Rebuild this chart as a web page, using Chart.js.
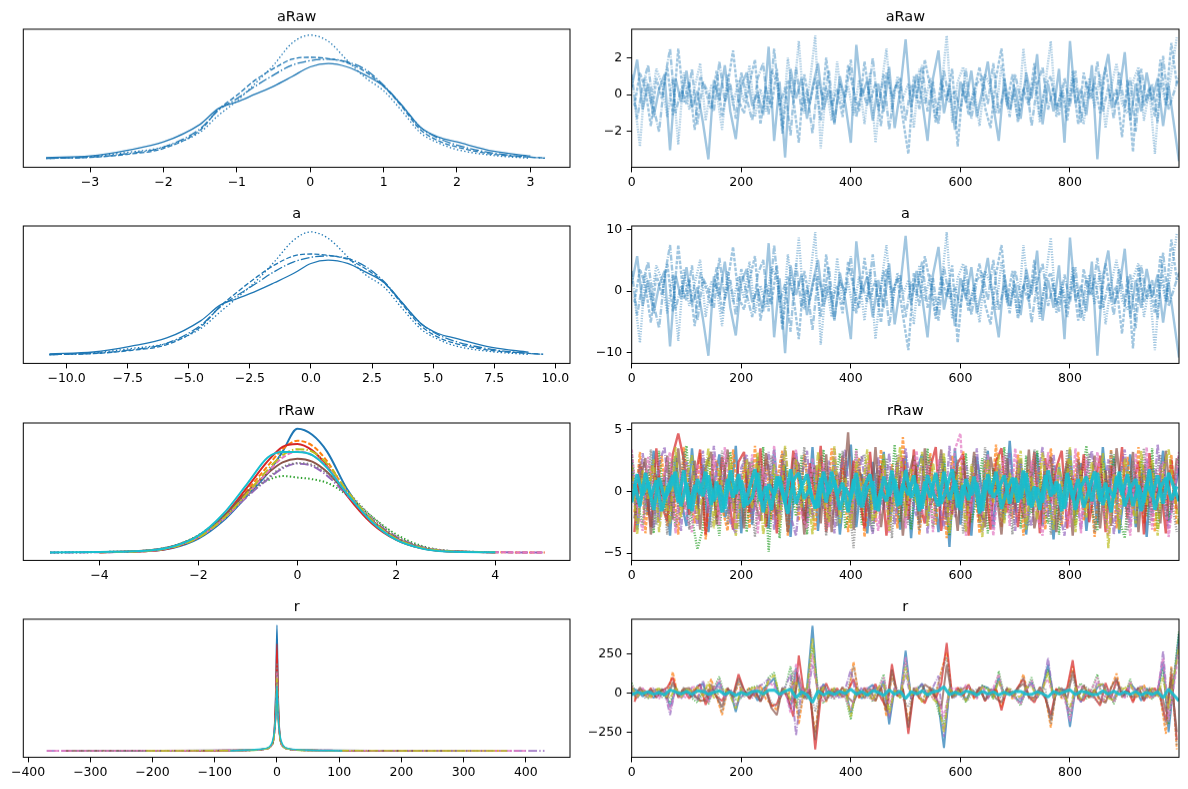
<!DOCTYPE html>
<html>
<head>
<meta charset="utf-8">
<script src="https://cdn.jsdelivr.net/npm/chart.js@4.4.1/dist/chart.umd.min.js"></script>
<style>
html,body{margin:0;padding:0;background:#fff;}
body{width:1188px;height:789px;position:relative;overflow:hidden;}
.p{position:absolute;}
</style>
</head>
<body>
<script>
// ---- data ----
// draw numbers sampled for even chains / odd chains
const DRAWS = [0,10,20,30,40,50,60,70,80,90,100,110,120,130,140,150,160,170,180,190,200,210,220,230,240,250,260,270,280,290,300,310,320,330,340,350,360,370,380,390,400,410,420,430,440,450,460,470,480,490,500,510,520,530,540,550,560,570,580,590,600,610,620,630,640,650,660,670,680,690,700,710,720,730,740,750,760,770,780,790,800,810,820,830,840,850,860,870,880,890,900,910,920,930,940,950,960,970,980,999];
const DRAWS_MID = [5,15,25,35,45,55,65,75,85,95,105,115,125,135,145,155,165,175,185,195,205,215,225,235,245,255,265,275,285,295,305,315,325,335,345,355,365,375,385,395,405,415,425,435,445,455,465,475,485,495,505,515,525,535,545,555,565,575,585,595,605,615,625,635,645,655,665,675,685,695,705,715,725,735,745,755,765,775,785,795,805,815,825,835,845,855,865,875,885,895,905,915,925,935,945,955,965,975,985,995];

// aRaw density per chain
const ARAW_KDE_X = [-3.6,-3.0,-2.5,-2.0,-1.5,-1.25,-1.0,-0.75,-0.5,-0.25,0.0,0.25,0.5,0.75,1.0,1.25,1.5,1.75,2.0,2.5,3.0,3.2];
const ARAW_KDE_0 = [0.004,0.010,0.030,0.060,0.123,0.179,0.202,0.230,0.258,0.292,0.327,0.339,0.327,0.298,0.258,0.190,0.113,0.077,0.060,0.027,0.010,null];
const ARAW_KDE_1 = [0.002,0.005,0.016,0.037,0.102,0.175,0.226,0.280,0.321,0.354,0.361,0.356,0.342,0.310,0.258,0.185,0.104,0.064,0.042,0.016,0.006,0.003];
const ARAW_KDE_2 = [0.001,0.006,0.018,0.042,0.107,0.173,0.214,0.258,0.298,0.333,0.349,0.354,0.345,0.318,0.262,0.190,0.113,0.073,0.049,0.020,0.006,0.002];
const ARAW_KDE_3 = [0.001,0.008,0.023,0.042,0.095,0.155,0.206,0.268,0.333,0.411,0.440,0.417,0.351,0.289,0.242,0.170,0.093,0.056,0.033,0.012,0.002,null];

// a density per chain
const A_KDE_X = [-10.7,-8.9,-7.4,-5.9,-4.5,-3.7,-3.0,-2.2,-1.5,-0.7,0.0,0.7,1.5,2.2,3.0,3.7,4.5,5.2,5.9,7.4,8.9,9.5];
const A_KDE_0 = [0.0013,0.0036,0.0105,0.0205,0.0414,0.0603,0.0680,0.0774,0.0869,0.0983,0.1101,0.1141,0.1101,0.1003,0.0869,0.0640,0.0380,0.0259,0.0202,0.0091,0.0034,null];
const A_KDE_1 = [0.0007,0.0017,0.0054,0.0125,0.0343,0.0589,0.0761,0.0943,0.1081,0.1192,0.1215,0.1199,0.1152,0.1044,0.0869,0.0623,0.0350,0.0215,0.0141,0.0054,0.0020,0.0010];
const A_KDE_2 = [0.0003,0.0020,0.0061,0.0141,0.0360,0.0582,0.0721,0.0869,0.1003,0.1121,0.1175,0.1192,0.1162,0.1071,0.0882,0.0640,0.0380,0.0246,0.0165,0.0067,0.0020,0.0007];
const A_KDE_3 = [0.0003,0.0027,0.0077,0.0141,0.0320,0.0522,0.0694,0.0902,0.1121,0.1384,0.1481,0.1404,0.1182,0.0973,0.0815,0.0572,0.0313,0.0189,0.0111,0.0040,0.0007,null];

// rRaw densities, one curve per colour
const RRAW_KDE_X = [-5,-4,-3,-2.5,-2,-1.5,-1,-0.6,-0.3,0,0.3,0.6,1,1.5,2,2.5,3,4,5];
const RRAW_KDE = [
  [null,0.001,0.006,0.020,0.058,0.132,0.240,0.330,0.420,0.515,0.490,0.420,0.265,0.130,0.055,0.018,0.005,0.001,null],
  [null,0.001,0.007,0.024,0.066,0.145,0.262,0.360,0.430,0.465,0.445,0.380,0.250,0.128,0.055,0.020,0.006,0.001,0.000],
  [0.000,0.002,0.009,0.028,0.072,0.150,0.250,0.300,0.318,0.312,0.305,0.290,0.240,0.150,0.075,0.028,0.008,0.001,null],
  [null,0.001,0.006,0.022,0.064,0.148,0.275,0.380,0.440,0.452,0.425,0.360,0.238,0.122,0.052,0.018,0.005,0.001,null],
  [0.000,0.001,0.008,0.026,0.068,0.140,0.235,0.305,0.350,0.370,0.360,0.320,0.240,0.140,0.065,0.024,0.007,0.001,0.000],
  [null,0.002,0.009,0.027,0.070,0.150,0.255,0.330,0.375,0.390,0.378,0.335,0.245,0.135,0.060,0.021,0.006,0.001,null],
  [null,0.001,0.007,0.024,0.064,0.138,0.245,0.335,0.395,0.420,0.405,0.355,0.250,0.132,0.056,0.020,0.006,0.001,0.000],
  [0.000,0.002,0.008,0.025,0.066,0.142,0.240,0.310,0.355,0.372,0.365,0.330,0.255,0.150,0.068,0.024,0.007,0.001,null],
  [null,0.001,0.007,0.023,0.062,0.140,0.250,0.345,0.405,0.430,0.420,0.370,0.258,0.135,0.057,0.020,0.006,0.001,null],
  [0.000,0.002,0.008,0.026,0.070,0.160,0.290,0.395,0.418,0.418,0.405,0.352,0.245,0.128,0.052,0.017,0.004,0.001,null]
];

// r densities: tail ends per colour, shared inner grid
const R_KDE_LO = [-260,-200,-230,-160,-370,-340,-370,-330,-210,-75];
const R_KDE_INNER = [-50,-20,-10,-5,-2,0,2,5,10,20,50];
const R_KDE_HI = [300,360,320,240,430,280,400,350,370,105];
const R_KDE = [
  [0,0.0004,0.0014,0.0036,0.012,0.048,0.100,0.046,0.011,0.0034,0.0013,0.0004,0],
  [0,0.0005,0.0015,0.0038,0.011,0.036,0.072,0.035,0.010,0.0035,0.0014,0.0004,0],
  [0,0.0004,0.0013,0.0035,0.010,0.032,0.066,0.031,0.010,0.0033,0.0012,0.0004,0],
  [0,0.0004,0.0014,0.0037,0.012,0.042,0.085,0.041,0.011,0.0036,0.0013,0.0005,0],
  [0,0.0005,0.0015,0.0040,0.011,0.029,0.060,0.030,0.010,0.0038,0.0015,0.0005,0],
  [0,0.0004,0.0013,0.0034,0.010,0.027,0.055,0.026,0.009,0.0033,0.0013,0.0004,0],
  [0,0.0005,0.0014,0.0036,0.010,0.031,0.062,0.030,0.010,0.0035,0.0014,0.0005,0],
  [0,0.0004,0.0014,0.0037,0.011,0.034,0.070,0.035,0.011,0.0036,0.0014,0.0004,0],
  [0,0.0004,0.0013,0.0035,0.010,0.028,0.058,0.029,0.010,0.0034,0.0013,0.0004,0],
  [0,0.0006,0.0018,0.0045,0.013,0.027,0.052,0.026,0.012,0.0044,0.0017,0.0006,0]
];

// aRaw chains
const ARAW_0 = [0.4,1.9,-0.8,0.6,-1.2,0.3,1.1,-3.0,0.9,-0.4, 1.3,-0.7,0.2,-1.5,-3.5,0.8,-0.3,1.6,-0.9,-2.4, 0.5,1.2,-0.6,0.1,-1.1,2.6,-2.5,0.7,-3.4,1.4, -0.2,0.9,-1.3,0.4,1.7,-0.8,0.3,-1.6,1.0,-0.5, -2.6,2.7,-0.1,0.8,-1.4,0.6,-0.9,1.5,-1.8,0.2, 3.0,-0.7,1.1,-0.3,-2.5,0.9,2.4,-1.0,0.5,-1.9, 0.7,-0.4,1.3,-1.2,0.2,1.8,-0.6,-2.5,0.9,-0.8, 0.4,-1.3,1.2,-0.2,2.2,-1.6,0.6,-0.9,1.4,-2.6, 2.9,-0.5,0.3,-1.1,1.6,-3.5,0.8,2.2,-0.7,0.1, 2.3,-1.4,0.6,-0.9,1.2,-0.3,0.9,-1.7,0.5,-3.6];
const ARAW_1 = [-0.6,1.2,0.3,-1.7,0.9,-0.2,1.5,-1.1,2.5,-0.4, 0.7,-1.9,1.0,0.2,-0.8,1.3,-1.2,0.5,2.4,-0.3, -1.0,0.6,1.9,-1.6,0.4,-0.7,1.4,-2.1,0.8,-0.2, -2.6,1.1,-0.5,0.9,-1.4,2.0,-0.6,0.3,-1.2,1.6, 0.2,-0.9,1.8,-0.4,0.6,-1.7,1.2,-0.1,0.7,-1.3, -3.2,1.0,-0.8,1.9,0.4,-1.5,0.8,-0.3,1.4,-2.8, 0.6,-1.1,0.2,1.5,-0.7,-1.8,0.9,2.5,-0.5,1.1, -1.5,0.3,-0.6,1.7,-1.2,0.5,1.0,-0.8,0.2,-1.4, 0.9,-1.6,1.2,-0.2,0.7,-1.0,1.5,-0.4,0.3,-2.3, 0.8,-3.1,1.3,-0.6,0.4,-1.2,1.9,-0.5,2.8,0.6];
const ARAW_2 = [1.1,-1.3,0.5,1.6,-0.7,-2.0,0.8,2.5,-1.0,0.3, -0.5,1.4,-1.6,0.7,0.1,-0.9,1.8,-0.4,0.6,-1.3, 1.2,-0.2,-1.4,0.9,1.7,-1.1,2.5,-0.6,0.4,-2.2, 1.5,-0.9,0.2,-2.1,0.8,-0.3,1.3,-1.5,0.6,-0.1, 1.9,-1.2,0.4,-0.6,2.0,-0.8,1.1,-1.9,0.3,0.9, -1.4,0.5,-0.2,1.6,-0.9,0.7,-1.6,1.3,-0.4,0.2, -0.9,1.4,-1.3,0.6,1.0,-0.5,1.7,-1.0,0.3,-1.2, 1.1,-0.3,0.8,-1.7,0.5,1.5,-0.8,0.4,-1.1,0.9, -0.6,1.3,-1.5,0.7,-0.2,1.8,-0.9,0.4,-1.3,1.2, -0.7,0.9,-2.0,1.4,-0.4,0.6,-1.5,2.1,-0.8,1.0];
const ARAW_3 = [-0.3,-2.8,1.0,-0.5,1.4,0.6,-1.2,0.9,-2.7,1.2, -0.8,0.4,1.7,-1.4,0.5,0.2,-1.9,1.1,-0.6,0.8, -0.4,1.6,-1.2,0.3,-0.9,1.3,0.7,-1.8,2.0,-0.3, 2.9,-1.0,0.6,3.2,-2.9,0.4,-1.4,1.8,-0.7,0.5, -1.1,0.8,-1.6,1.2,-2.6,0.3,2.5,-0.9,1.0,-0.2, 0.6,-1.8,1.4,-0.5,0.9,-1.3,0.2,3.2,-1.5,0.7, 1.5,-0.8,0.3,-1.7,1.1,0.4,-1.0,1.6,-0.6,0.2, -1.3,2.5,-0.4,0.8,-1.5,0.6,2.9,-1.2,0.5,-0.9, 1.3,-0.3,-1.6,0.9,-0.7,1.1,-1.8,0.4,1.7,-0.5, -1.0,0.7,1.5,-1.4,0.3,-3.2,0.8,-0.6,1.2,3.1];

// a chains
const A_0 = [1.2,5.7,-2.4,1.8,-3.6,0.9,3.3,-9.0,2.7,-1.2, 3.9,-2.1,0.6,-4.5,-10.5,2.4,-0.9,4.8,-2.7,-7.2, 1.5,3.6,-1.8,0.3,-3.3,7.8,-7.5,2.1,-10.1,4.2, -0.6,2.7,-3.9,1.2,5.1,-2.4,0.9,-4.8,3.0,-1.5, -7.8,8.1,-0.3,2.4,-4.2,1.8,-2.7,4.5,-5.4,0.6, 9.0,-2.1,3.3,-0.9,-7.5,2.7,7.2,-3.0,1.5,-5.7, 2.1,-1.2,3.9,-3.6,0.6,5.4,-1.8,-7.5,2.7,-2.4, 1.2,-3.9,3.6,-0.6,6.6,-4.8,1.8,-2.7,4.2,-7.8, 8.7,-1.5,0.9,-3.3,4.8,-10.5,2.4,6.6,-2.1,0.3, 6.9,-4.2,1.8,-2.7,3.6,-0.9,2.7,-5.1,1.5,-10.8];
const A_1 = [-1.8,3.6,0.9,-5.1,2.7,-0.6,4.5,-3.3,7.5,-1.2, 2.1,-5.7,3.0,0.6,-2.4,3.9,-3.6,1.5,7.2,-0.9, -3.0,1.8,5.7,-4.8,1.2,-2.1,4.2,-6.3,2.4,-0.6, -7.8,3.3,-1.5,2.7,-4.2,6.0,-1.8,0.9,-3.6,4.8, 0.6,-2.7,5.4,-1.2,1.8,-5.1,3.6,-0.3,2.1,-3.9, -9.6,3.0,-2.4,5.7,1.2,-4.5,2.4,-0.9,4.2,-8.4, 1.8,-3.3,0.6,4.5,-2.1,-5.4,2.7,7.5,-1.5,3.3, -4.5,0.9,-1.8,5.1,-3.6,1.5,3.0,-2.4,0.6,-4.2, 2.7,-4.8,3.6,-0.6,2.1,-3.0,4.5,-1.2,0.9,-6.9, 2.4,-9.3,3.9,-1.8,1.2,-3.6,5.7,-1.5,8.4,1.8];
const A_2 = [3.3,-3.9,1.5,4.8,-2.1,-6.0,2.4,7.5,-3.0,0.9, -1.5,4.2,-4.8,2.1,0.3,-2.7,5.4,-1.2,1.8,-3.9, 3.6,-0.6,-4.2,2.7,5.1,-3.3,7.5,-1.8,1.2,-6.6, 4.5,-2.7,0.6,-6.3,2.4,-0.9,3.9,-4.5,1.8,-0.3, 5.7,-3.6,1.2,-1.8,6.0,-2.4,3.3,-5.7,0.9,2.7, -4.2,1.5,-0.6,4.8,-2.7,2.1,-4.8,3.9,-1.2,0.6, -2.7,4.2,-3.9,1.8,3.0,-1.5,5.1,-3.0,0.9,-3.6, 3.3,-0.9,2.4,-5.1,1.5,4.5,-2.4,1.2,-3.3,2.7, -1.8,3.9,-4.5,2.1,-0.6,5.4,-2.7,1.2,-3.9,3.6, -2.1,2.7,-6.0,4.2,-1.2,1.8,-4.5,6.3,-2.4,3.0];
const A_3 = [-0.9,-8.4,3.0,-1.5,4.2,1.8,-3.6,2.7,-8.1,3.6, -2.4,1.2,5.1,-4.2,1.5,0.6,-5.7,3.3,-1.8,2.4, -1.2,4.8,-3.6,0.9,-2.7,3.9,2.1,-5.4,6.0,-0.9, 8.7,-3.0,1.8,9.6,-8.7,1.2,-4.2,5.4,-2.1,1.5, -3.3,2.4,-4.8,3.6,-7.8,0.9,7.5,-2.7,3.0,-0.6, 1.8,-5.4,4.2,-1.5,2.7,-3.9,0.6,9.6,-4.5,2.1, 4.5,-2.4,0.9,-5.1,3.3,1.2,-3.0,4.8,-1.8,0.6, -3.9,7.5,-1.2,2.4,-4.5,1.8,8.7,-3.6,1.5,-2.7, 3.9,-0.9,-4.8,2.7,-2.1,3.3,-5.4,1.2,5.1,-1.5, -3.0,2.1,4.5,-4.2,0.9,-9.6,2.4,-1.8,3.6,9.3];

// rRaw draws, one series per colour (last two are both teal)
const RRAW_TRACE = [
  [2.6,-3.1,0.8,-1.9,3.3,-2.4,1.2,-3.6,2.9,-0.7, -2.8,3.5,-1.4,2.2,-3.3,0.5,3.0,-2.1,-0.9,3.7, -3.4,1.6,-2.7,2.8,-0.3,-3.0,3.4,-1.8,2.1,-3.7, 3.1,-0.6,-2.5,3.6,-3.2,1.9,-1.1,2.7,-3.5,0.9, 3.8,-2.9,1.4,-3.4,2.4,-0.8,3.2,-2.6,0.4,-3.1, 2.9,-3.8,1.7,3.0,-2.2,0.6,-3.3,2.5,-4.5,3.5, -2.7,1.1,-3.6,2.8,-0.2,3.3,-3.0,1.8,-2.3,4.1, -1.6,2.6,-3.5,0.7,3.1,-2.8,1.3,-3.9,2.0,-0.5, 3.4,-2.0,2.3,-3.2,1.0,-2.6,3.6,-1.2,2.7,-3.4, 0.3,3.0,-2.9,1.5,-3.7,2.2,-0.4,3.3,-2.5,1.9],
  [-1.7,3.2,-3.4,2.1,-0.6,2.9,-2.8,1.0,-3.5,3.6, 0.2,-2.6,3.1,-3.9,1.4,2.5,-1.3,-3.2,3.4,-0.8, 2.0,-3.0,3.7,-1.5,2.6,-2.3,0.9,3.3,-3.6,1.7, -2.4,3.0,-0.4,-3.1,2.8,-2.0,3.5,-1.1,1.9,-3.3, 0.6,2.7,-3.7,1.2,-2.5,3.4,-0.9,2.2,-3.0,4.4, -1.4,2.4,-3.5,0.3,3.1,-2.7,1.6,-3.8,2.9,-0.5, 3.3,-2.1,0.8,-3.4,2.5,-1.7,3.8,-2.9,1.1,-2.2, 3.0,-3.6,1.8,-0.7,2.3,-3.1,3.5,-1.0,-2.8,2.6, -0.3,3.2,-2.4,1.3,-3.7,2.0,-1.6,3.4,-3.0,0.7, 2.8,-1.9,3.6,-2.6,0.5,-3.3,2.1,-1.2,3.0,-2.7],
  [3.0,-0.9,-2.7,1.8,-3.4,3.3,-1.6,2.4,-2.9,0.4, 3.7,-2.2,-4.7,-3.0,2.7,-0.5,-3.6,2.0,3.2,-1.8, 0.7,-3.3,2.5,-1.0,3.6,-4.9,1.5,-3.8,2.2,0.1, -2.0,2.9,-3.5,1.3,-0.8,3.4,-2.4,0.5,3.1,-3.0, -1.2,3.5,-2.7,2.0,-3.3,1.0,2.6,-1.9,3.8,-2.5, 0.9,-3.1,2.3,-1.4,3.5,-2.9,0.2,2.8,-3.6,1.6, -1.0,3.1,-2.5,-0.6,2.7,-3.4,1.9,-1.3,3.6,-2.0, 0.5,-3.0,2.9,-1.8,3.3,-0.9,-2.6,2.1,-3.5,1.4, 2.5,-2.8,0.8,3.7,-1.5,-3.2,2.4,-0.2,3.0,-2.3, -3.8,1.7,-0.6,2.6,-2.0,3.5,-3.1,1.0,-2.4,2.9],
  [-3.3,2.2,0.5,-2.9,3.5,-1.2,-2.4,3.0,4.7,2.6, -1.9,0.8,3.4,-3.5,1.6,-2.1,2.8,0.2,-3.1,2.4, 3.2,-1.7,-0.5,3.5,-2.9,1.1,-3.4,2.6,-1.4,3.3, 0.8,-2.7,2.3,-0.9,3.7,-3.3,0.4,-2.0,2.9,-1.6, 2.5,-0.3,-3.0,3.2,-1.8,2.1,-3.6,1.4,-0.7,2.7, -2.3,3.4,-0.8,-2.6,1.9,3.6,-3.2,0.5,-1.9,2.3, 3.0,-3.6,1.5,-2.4,0.7,-3.1,2.4,3.5,-1.7,0.9, -2.9,1.6,-0.4,3.2,-3.4,2.7,-0.9,1.9,3.3,-3.0, 1.2,-1.7,3.0,-2.5,0.4,2.9,-3.3,2.1,-0.8,3.6, -2.2,0.6,2.4,-3.5,3.1,-1.0,0.9,-3.4,2.6,-1.5],
  [1.5,-2.6,3.1,-0.3,-3.0,2.3,3.6,-1.5,0.9,-3.2, 2.4,-0.1,-2.8,3.3,-1.8,3.7,-0.7,1.4,-2.5,-3.4, 1.9,3.0,-2.3,0.6,-1.3,3.2,-3.1,-0.2,3.5,-2.0, -3.6,1.2,3.3,-2.2,0.3,-1.4,2.5,-3.4,1.6,3.4, -2.1,0.1,2.9,-1.0,-3.5,2.8,-1.5,3.1,-2.7,0.8, 3.5,-0.4,-2.0,2.6,-3.4,1.3,-0.6,-3.0,3.7,-2.1, 0.4,2.3,-1.8,3.5,-3.3,0.9,-2.7,2.2,-0.5,3.1, -3.2,2.4,-1.2,-2.8,0.9,3.6,-2.1,3.0,-1.5,-3.6, 2.1,0.3,-3.1,1.7,3.3,-1.2,-0.5,2.6,-3.5,1.0, 3.4,-2.8,1.3,-0.9,2.6,-2.4,3.8,-0.6,-3.0,2.3],
  [-2.2,0.9,2.7,-3.5,1.3,-0.6,2.9,-2.3,3.5,-1.4, -0.4,2.5,-3.1,1.9,3.2,-2.7,-0.2,3.4,-1.6,1.1, -3.0,2.4,-0.9,-2.4,3.1,0.3,-2.0,1.2,-3.3,2.7, 2.2,-3.5,0.6,2.1,-2.6,3.0,-3.3,1.5,-0.8,4.8, -3.1,1.7,0.4,-2.2,3.6,-2.9,0.7,-1.2,2.4,-3.6, 1.2,2.9,-2.6,3.5,-1.1,-0.3,3.4,-2.2,1.1,-3.2, 2.6,-1.4,3.2,-0.9,-2.9,2.8,0.3,-3.5,2.7,-1.1, 1.9,-2.2,3.4,-3.0,-0.6,1.5,2.8,-3.3,0.4,2.4, -3.6,2.6,-1.0,-0.8,2.9,-3.0,1.7,-2.8,3.5,-0.3, -1.6,3.2,-3.3,2.1,-1.3,0.6,-2.6,3.3,-1.5,2.7],
  [3.4,-1.3,-3.2,2.8,0.2,-2.5,1.6,3.2,-3.4,1.5, -2.0,-3.3,2.2,0.5,-1.2,2.9,-2.8,3.6,-0.6,-2.6, 1.3,-0.8,3.0,-3.4,2.0,-1.6,3.7,-2.5,0.9,-1.1, 3.4,-1.9,-3.0,2.7,-0.5,2.3,-2.9,3.5,-1.7,0.7, -2.6,3.3,-1.3,2.4,-0.2,-3.2,2.0,-3.4,1.5,2.9, -3.0,0.6,3.3,-1.9,2.2,-3.3,2.6,-0.1,-2.7,3.4, 4.7,-3.6,-0.3,1.3,-1.9,3.0,-3.6,0.5,2.9,-2.8, 3.5,-0.8,-2.3,2.5,-2.0,-3.6,3.2,-2.4,1.6,-0.7, -2.9,3.5,-3.4,2.8,-1.1,3.2,-0.9,-3.6,2.0,-2.2, 1.2,-3.6,3.1,-1.7,3.6,-3.1,1.4,2.4,-3.7,3.2],
  [-0.8,2.4,-1.9,3.4,-2.7,1.1,-3.5,2.6,-1.3,3.2, -3.1,1.9,-0.4,2.6,-2.9,-1.0,3.3,-2.7,1.3,-3.0, 2.8,0.4,-3.7,1.8,-2.2,2.9,-0.6,3.1,-2.7,0.8, -1.4,3.6,-2.0,-1.2,2.9,-3.6,1.8,-2.8,3.3,-0.2, -4.6,2.4,3.0,-2.8,1.5,-1.1,2.7,-3.8,3.0,-0.9, -2.7,1.5,-3.2,0.7,2.8,-1.6,3.1,-2.5,-0.3,2.6, -3.4,0.2,2.9,-2.7,3.6,-0.6,1.6,-2.1,3.1,-3.5, 2.5,-1.4,-2.8,3.4,-1.0,2.2,-3.5,0.8,-2.4,3.4, -1.9,2.2,-0.6,3.1,-3.3,1.6,-2.7,3.3,-1.2,2.1, -3.2,2.5,-1.4,3.5,-2.7,0.8,3.0,-2.1,-0.6,-3.3],
  [2.1,-3.5,1.7,-0.6,2.6,-3.3,0.4,-2.6,3.6,-2.1, 1.0,3.0,-2.3,-0.2,3.5,-3.0,1.9,-1.1,2.8,-3.6, -0.2,2.6,-1.4,3.2,-3.5,-0.5,2.2,-2.9,3.7,-0.9, 2.6,-1.3,0.9,-3.5,3.2,-0.7,-2.5,3.7,-2.6,1.1, -3.0,2.5,-0.5,3.4,-2.4,-1.5,3.0,-3.2,0.1,3.6, -2.0,1.8,-1.1,3.2,-2.8,2.3,-0.4,3.1,-3.4,0.6, 2.0,-3.3,2.2,-0.2,-3.7,2.6,-0.9,3.0,-2.6,1.5, -0.9,3.3,-3.1,1.2,-2.3,3.2,-0.4,-3.1,2.3,-1.3, 3.6,-3.3,1.7,-2.1,2.4,-0.6,3.1,-4.6,1.4,-3.1, 2.7,-0.3,-2.6,3.3,-1.1,2.6,-3.6,1.7,3.4,-2.8],
  [0.6,-1.2,1.5,-0.4,0.9,-1.6,0.2,1.3,-0.9,1.7, -1.4,0.5,-0.2,1.6,-1.1,0.8,-1.7,1.0,-0.5,1.4, -1.3,0.3,1.8,-0.8,0.4,-1.5,1.2,-0.1,-1.8,0.9, 1.5,-0.6,0.2,-1.4,1.1,-0.9,1.6,-0.3,0.7,-1.7, 1.0,-1.1,0.4,1.4,-1.5,0.1,-0.8,1.7,-1.2,0.6, -0.3,1.3,-1.6,0.8,-0.5,1.5,-1.0,0.3,1.8,-1.3, 0.5,-0.7,1.2,-1.8,0.9,-0.2,1.6,-1.4,0.1,1.1, -0.9,1.7,-1.1,0.4,-1.5,1.3,-0.4,0.8,-1.6,1.5, -0.6,1.0,-1.3,0.2,1.6,-0.8,0.7,-1.7,1.2,-0.3, 1.4,-1.2,0.5,-0.9,1.8,-1.5,0.3,1.1,-0.7,0.4],
  [-0.9,1.4,-0.3,0.8,-1.5,1.1,-0.6,0.2,1.6,-1.2, 0.7,-1.6,1.0,-0.4,1.3,-0.8,0.5,-1.4,1.7,-0.2, 0.9,-1.1,-0.5,1.5,-1.7,0.6,-0.3,1.2,-0.9,1.8, -1.0,0.4,1.4,-0.7,-1.3,1.6,-0.2,0.9,-1.5,0.3, -0.6,1.5,-1.3,0.2,0.8,-1.6,1.2,-0.4,1.0,-1.1, 1.7,-0.5,0.6,-1.4,1.3,-0.1,-1.2,1.6,-0.7,0.9, -1.5,1.0,-0.3,0.7,-1.6,1.4,-0.5,0.2,1.3,-1.0, 1.1,-0.6,1.5,-1.3,0.3,-0.9,1.7,-0.2,0.6,-1.4, 0.9,-1.5,0.4,1.2,-0.8,1.5,-1.1,0.3,-0.5,1.6, -1.2,0.2,1.0,-1.6,0.7,-0.4,1.3,-1.0,1.5,-0.8]
];
const RRAW_TRACE_COLOR = [0,1,2,3,4,5,6,7,8,9,9];

// r draws, one series per colour
const R_TRACE = [
  [30,18,-22,9,-31,14,25,-90,21,-12, 8,-26,45,60,-45,17,70,-20,11,-120, 24,-9,15,-48,28,55,95,-33,19,-100, 160,-28,36,430,-40,58,-17,29,-13,22, -130,16,-35,27,52,-14,80,-200,33,-21, 270,-38,12,60,-24,31,-80,-350,26,-15, 19,-46,23,-11,44,34,-27,100,-18,13, -29,-60,21,70,-16,38,180,-32,10,25, -215,29,-55,15,-23,36,58,-19,-50,27, -14,60,22,-48,31,-26,12,200,-250,380],
  [-40,22,14,-30,26,-11,-18,135,-25,33, -16,29,-52,-35,90,-21,-140,24,-30,60, -13,35,-27,50,-38,-70,-110,18,-24,80, -200,31,-19,-250,37,-55,28,-14,33,-26, 200,-32,17,-29,-48,36,-150,120,-22,15, -180,26,-33,-52,40,-18,140,260,-27,34, -21,55,-37,28,-45,-12,30,-90,23,-36, 19,120,-28,-40,35,-17,-220,26,-34,14, 170,-24,48,-31,20,-60,-50,33,125,-18, 27,-45,-15,52,-36,21,-29,-260,170,-360],
  [65,-28,16,-35,12,30,-21,-60,38,-10, 27,-33,-60,25,-70,34,105,-15,22,-40, -30,18,36,45,-20,100,130,-26,32,170, -90,23,-41,300,29,-65,14,-36,19,-24, -170,35,-13,31,-55,22,120,-110,26,-32, 200,-20,34,48,-27,16,-120,-200,37,-22, 28,-58,15,-33,50,21,-38,140,-14,30, -25,-80,17,100,-34,29,150,-16,35,-28, -150,19,62,-37,25,120,-54,22,-70,33, -18,90,-31,45,24,-39,16,150,-200,400],
  [-55,24,-17,31,-26,13,36,100,-29,18, -34,15,55,-75,30,-23,-50,28,-16,120, 21,-37,12,-52,33,-85,-70,25,-31,-150, 240,-19,27,-360,-35,62,-22,30,-27,16, 90,-28,34,-15,58,-33,-90,185,-21,29, -260,17,-30,-64,22,-38,60,320,-24,35, -17,50,-29,36,-52,14,26,-110,31,-20, 38,90,-26,-60,17,-33,-140,29,-15,36, 210,-37,-46,22,-28,-80,64,-31,80,-12, 25,-60,33,-50,19,30,-22,-180,120,-300],
  [20,-33,27,-14,35,-24,11,-140,30,-37, 15,29,-48,80,-25,38,40,-28,17,-80, -26,14,-32,40,58,90,60,-19,37,120, -270,26,-38,180,21,50,-30,15,-36,28, 150,-23,37,-31,46,19,50,-160,33,-17, 120,-35,22,57,-29,38,110,-280,14,-32, 36,-44,20,-27,48,-36,25,70,-22,31, -15,-40,34,55,-28,20,225,-37,26,-19, -120,32,-58,24,-35,70,49,-21,-30,38, -27,40,18,47,-33,26,-14,270,-150,320],
  [-25,36,-12,22,-30,28,-35,70,-18,26, 32,-20,-46,-50,55,-27,-90,34,-24,95, 17,-31,26,-55,13,-95,-140,35,-22,-60, 110,-36,18,-300,32,-48,24,-17,38,-29, -60,21,-33,27,-50,35,-120,150,-16,30, -220,34,-19,54,29,-26,-100,180,-33,18, 28,47,-15,36,-45,22,-34,-60,27,-14, 33,60,-22,-30,38,-25,-170,16,31,-36, 140,-18,50,-29,23,-40,-62,35,95,-27, 14,-30,36,-42,28,-21,32,-120,90,-250],
  [45,-19,33,-27,15,-36,22,-110,28,-14, -30,37,40,15,-60,25,85,-33,20,-20, 35,-24,13,42,-30,70,40,-27,16,-130, 190,33,-25,250,-18,-52,30,-35,22,-31, -110,27,-16,35,-47,24,100,-70,31,-23, 230,-29,38,-46,18,-34,-40,-150,25,32, -23,52,29,-37,42,-17,34,120,-26,21, -35,-70,15,80,-24,37,90,-29,18,-33, -180,26,47,-14,30,100,-52,27,-60,19, -31,75,-22,44,16,-35,28,220,-180,260],
  [-15,27,-34,16,23,-29,31,50,-22,35, -17,-28,-38,40,-10,33,-120,21,-36,75, -24,30,-18,-40,26,-60,-85,34,-13,140, -150,22,36,-120,27,45,-33,19,-28,37, 170,-15,29,-36,41,-22,-40,90,24,-34, -90,31,-25,-50,36,14,120,230,-30,23, -36,-40,18,28,-46,33,-20,-30,35,-26, 16,100,-33,-50,24,31,-200,18,-27,29, 100,-34,51,22,-38,-70,45,-23,60,30, -20,-20,27,-39,33,15,-36,-200,160,-340],
  [35,-24,19,-32,11,29,-16,-30,34,-27, 22,15,38,-20,70,-31,20,27,-19,-100, 30,-16,33,35,-26,80,115,-14,28,-40, 70,-30,24,350,-37,40,-21,33,-17,26, -150,30,-23,17,-44,36,60,-130,20,-29, 160,-16,31,-58,25,-37,-70,-250,28,-20, 33,-50,24,-18,38,27,-32,80,-21,34, -27,-20,36,40,-19,25,130,-30,22,-16, -90,37,-44,28,-21,50,56,-33,-45,24, 30,55,-17,38,-25,32,-20,100,-100,300],
  [-10,6,-4,9,-7,3,-12,20,8,-5, 11,-8,14,10,-8,5,15,-9,7,-15, 4,-11,9,13,-6,18,20,-7,12,25, -30,8,-10,-60,14,-12,6,-9,11,-4, 25,-7,10,-13,15,5,-15,20,-8,12, -35,9,-6,14,-11,7,15,40,-10,6, -9,13,4,-12,10,-5,8,-12,6,-10, 12,10,-7,-8,9,-4,-25,11,-6,8, 20,-10,12,5,-9,-10,14,-6,12,-8, 7,-8,10,-12,5,-9,8,-30,25,-50]
];

// tick labels
const ARAW_KDE_TICKS = [-3,-2,-1,0,1,2,3];
const A_KDE_TICKS = [-10,-7.5,-5,-2.5,0,2.5,5,7.5,10];
const RRAW_KDE_TICKS = [-4,-2,0,2,4];
const R_KDE_TICKS = [-400,-300,-200,-100,0,100,200,300,400];
const DRAW_TICKS = [0,200,400,600,800];
const ARAW_Y_TICKS = [-2,0,2];
const A_Y_TICKS = [-10,0,10];
const RRAW_Y_TICKS = [-5,0,5];
const R_Y_TICKS = [-250,0,250];

// ---- styling / layout ----
const FONT = "'DejaVu Sans', sans-serif";
const TAB10 = ['#1f77b4','#ff7f0e','#2ca02c','#d62728','#9467bd','#8c564b','#e377c2','#7f7f7f','#bcbd22','#17becf'];
const CHAIN_STYLE = ['solid','dashed','dashdot','dotted'];
const MIX_STYLE = ['solid','dashed','dotted','solid','dashdot','solid','dashed','dotted','dashdot','solid','dashed'];
const KDE_DASH = {solid: [], dashed: [5, 2.2], dashdot: [8.8, 2.2, 1.4, 2.2], dotted: [1.4, 2.3]};
const TR_DASH = {solid: [], dashed: [3.5, 1.5], dashdot: [6, 1.5, 1, 1.5], dotted: [1.2, 1.4]};
const FRAME_L = [23.3, 631.7], FRAME_R = [570, 1179];
const ROW_T = 29.3, ROW_STEP = 196.7, FRAME_H = 137.4;

function rgba(hex, a) {
  const n = parseInt(hex.slice(1), 16);
  return `rgba(${n >> 16},${(n >> 8) & 255},${n & 255},${a})`;
}
function fmt(v, dec) {
  return (v < 0 ? '\u2212' : '') + Math.abs(v).toFixed(dec);
}
function pts(xs, ys) {
  return xs.map((x, i) => ({x, y: ys[i]})).filter(p => p.y !== null);
}
function kde(xs, ys, color, style, order, width) {
  return {data: pts(xs, ys), borderColor: color, borderWidth: width || 1.3, borderDash: KDE_DASH[style],
    pointRadius: 0, cubicInterpolationMode: 'monotone', fill: false, order};
}
function trace(xs, ys, color, style, width, order) {
  return {data: pts(xs, ys), borderColor: color, borderWidth: width, borderDash: TR_DASH[style],
    pointRadius: 0, tension: 0, fill: false, order, borderJoinStyle: 'bevel'};
}
const drawsFor = i => (i % 2 ? DRAWS_MID : DRAWS);

const frame = {
  id: 'frame',
  afterDatasetsDraw(chart) {
    const {ctx, chartArea: a} = chart;
    ctx.save();
    ctx.strokeStyle = '#000';
    ctx.lineWidth = 1;
    ctx.strokeRect(a.left, a.top, a.right - a.left, a.bottom - a.top);
    ctx.restore();
  }
};

function panel(row, col, title, datasets, xr, yr, xticks, xdec, yticks) {
  const wrap = document.createElement('div');
  wrap.className = 'p';
  const left = col ? 580 : 0, width = col ? 608 : 594;
  const top = ROW_T + ROW_STEP * row - 30;
  wrap.style.cssText = `left:${left}px;top:${top}px;width:${width}px;height:${60 + FRAME_H}px`;
  const cv = document.createElement('canvas');
  wrap.appendChild(cv);
  document.body.appendChild(wrap);
  const tickFont = {family: FONT, size: 12.5};
  const grid = {display: true, drawOnChartArea: false, drawTicks: true, tickLength: 5, color: '#000', lineWidth: 1};
  new Chart(cv, {
    type: 'line',
    data: {datasets},
    options: {
      animation: false, responsive: true, maintainAspectRatio: false, events: [],
      layout: {padding: {left: col ? 0 : FRAME_L[0], right: col ? 1188 - FRAME_R[1] : 594 - FRAME_R[0], top: 0, bottom: 0}},
      plugins: {
        legend: {display: false}, tooltip: {enabled: false},
        title: {display: true, text: title, fullSize: false, color: '#000',
          font: {family: FONT, size: 14.5, weight: 'normal'}, padding: {top: 9.7, bottom: 2.9}}
      },
      scales: {
        x: {type: 'linear', min: xr[0], max: xr[1],
          afterBuildTicks: s => { s.ticks = xticks.map(v => ({value: v})); },
          afterFit: s => { s.height = 30; },
          ticks: {callback: v => fmt(v, xdec), font: tickFont, color: '#000', padding: 2.5, maxRotation: 0, autoSkip: false},
          grid, border: {display: false}},
        y: {type: 'linear', min: yr[0], max: yr[1], display: !!yticks,
          afterBuildTicks: s => { if (yticks) s.ticks = yticks.map(v => ({value: v})); },
          afterFit: s => { s.width = yticks ? FRAME_L[1] - 580 : 0; },
          ticks: {callback: v => fmt(v, 0), font: tickFont, color: '#000', padding: 4.5, autoSkip: false},
          grid, border: {display: false}}
      }
    },
    plugins: [frame]
  });
}

// ---- panels ----
const C0 = TAB10[0];
const arawKde = [ARAW_KDE_0, ARAW_KDE_1, ARAW_KDE_2, ARAW_KDE_3].map((ys, c) => kde(ARAW_KDE_X, ys, C0, CHAIN_STYLE[c], 3 - c));
panel(0, 0, 'aRaw', arawKde, [-3.91, 3.54], [-0.030, 0.461], ARAW_KDE_TICKS, 0, null);

const arawTr = [ARAW_0, ARAW_1, ARAW_2, ARAW_3].map((ys, c) => trace(drawsFor(c), ys, rgba(C0, 0.42), CHAIN_STYLE[c], 2.4, 3 - c));
panel(0, 1, 'aRaw', arawTr, [0, 999], [-3.93, 3.55], DRAW_TICKS, 0, ARAW_Y_TICKS);

const aKde = [A_KDE_0, A_KDE_1, A_KDE_2, A_KDE_3].map((ys, c) => kde(A_KDE_X, ys, C0, CHAIN_STYLE[c], 3 - c));
panel(1, 0, 'a', aKde, [-11.77, 10.6], [-0.0101, 0.1552], A_KDE_TICKS, 1, null);

const aTr = [A_0, A_1, A_2, A_3].map((ys, c) => trace(drawsFor(c), ys, rgba(C0, 0.42), CHAIN_STYLE[c], 2.4, 3 - c));
panel(1, 1, 'a', aTr, [0, 999], [-11.75, 10.6], DRAW_TICKS, 0, A_Y_TICKS);

const rrawKde = RRAW_KDE.map((ys, i) => kde(RRAW_KDE_X, ys, TAB10[i], MIX_STYLE[i], 9 - i, 2));
panel(2, 0, 'rRaw', rrawKde, [-5.54, 5.51], [-0.033, 0.539], RRAW_KDE_TICKS, 0, null);

const rrawTr = RRAW_TRACE.map((ys, i) => {
  const col = TAB10[RRAW_TRACE_COLOR[i]];
  return i >= 9
    ? trace(drawsFor(i), ys, rgba(col, 0.9), 'solid', 3.4, 10 - i)
    : trace(drawsFor(i), ys, rgba(col, 0.7), MIX_STYLE[i], 2.4, 11 - i);
});
panel(2, 1, 'rRaw', rrawTr, [0, 999], [-5.6, 5.55], DRAW_TICKS, 0, RRAW_Y_TICKS);

const rKde = R_KDE.map((ys, i) => kde([R_KDE_LO[i], ...R_KDE_INNER, R_KDE_HI[i]], ys, TAB10[i], MIX_STYLE[i], 9 - i, 1.4));
panel(3, 0, 'r', rKde, [-407.7, 471], [-0.0051, 0.1048], R_KDE_TICKS, 0, null);

const rTr = R_TRACE.map((ys, i) => i === 9
  ? trace(DRAWS, ys, rgba(TAB10[i], 0.9), 'solid', 3, 0)
  : trace(drawsFor(i), ys, rgba(TAB10[i], 0.7), MIX_STYLE[i], 2, 9 - i));
panel(3, 1, 'r', rTr, [0, 999], [-410, 472], DRAW_TICKS, 0, R_Y_TICKS);
</script>
</body>
</html>
